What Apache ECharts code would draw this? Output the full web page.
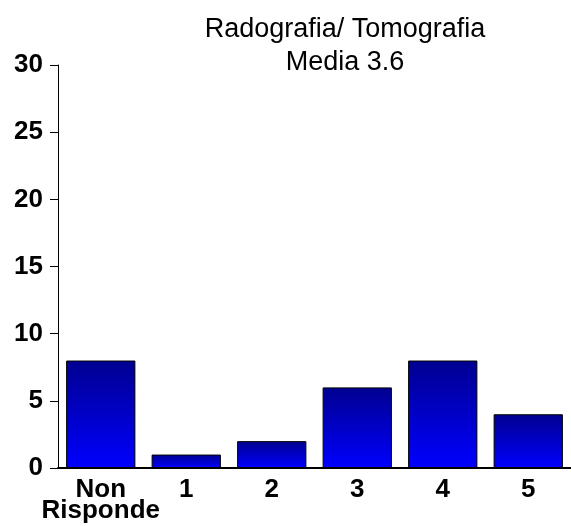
<!DOCTYPE html>
<html>
<head>
<meta charset="utf-8">
<script src="https://cdn.jsdelivr.net/npm/echarts@6/dist/echarts.min.js"></script>
<style>
html,body{margin:0;padding:0;background:#fff;}
#chart{width:571px;height:526px;}
</style>
</head>
<body>
<div id="chart"></div>
<script type="text/javascript">
// dati
var categorie = ['Non\nRisponde', '1', '2', '3', '4', '5'];
var valori = [8, 1, 2, 6, 8, 4];
var titolo = 'Radografia/ Tomografia\nMedia 3.6';

var myChart = echarts.init(document.getElementById('chart'));
var option = {
    animation: false,
    title: {
        text: titolo,
        left: 340,
        top: 8,
        textAlign: 'center',
        textStyle: {
            fontFamily: 'Liberation Sans',
            fontSize: 27,
            fontWeight: 'normal',
            lineHeight: 33,
            color: '#000'
        }
    },
    grid: {
        left: 58,
        right: 0,
        top: 65,
        bottom: 58
    },
    xAxis: {
        type: 'category',
        data: categorie,
        axisLine: { lineStyle: { color: '#000', width: 2 } },
        axisTick: { show: false },
        axisLabel: {
            interval: 0,
            margin: 11,
            fontFamily: 'Liberation Sans',
            fontSize: 26,
            fontWeight: 'bold',
            lineHeight: 21,
            color: '#000'
        }
    },
    yAxis: {
        type: 'value',
        min: 0,
        max: 30,
        interval: 5,
        splitLine: { show: false },
        axisLine: { show: true, lineStyle: { color: '#000', width: 1 } },
        axisTick: { show: true, length: 8, lineStyle: { color: '#000' } },
        axisLabel: {
            margin: 15,
            fontFamily: 'Liberation Sans',
            fontSize: 26,
            fontWeight: 'bold',
            color: '#000'
        }
    },
    series: [{
        type: 'bar',
        data: valori,
        barCategoryGap: '19%',
        itemStyle: {
            borderColor: '#000',
            borderWidth: 1,
            color: new echarts.graphic.LinearGradient(0, 0, 0, 1, [
                { offset: 0, color: '#000090' },
                { offset: 1, color: '#0000ff' }
            ])
        }
    }]
};
myChart.setOption(option);
</script>
</body>
</html>
